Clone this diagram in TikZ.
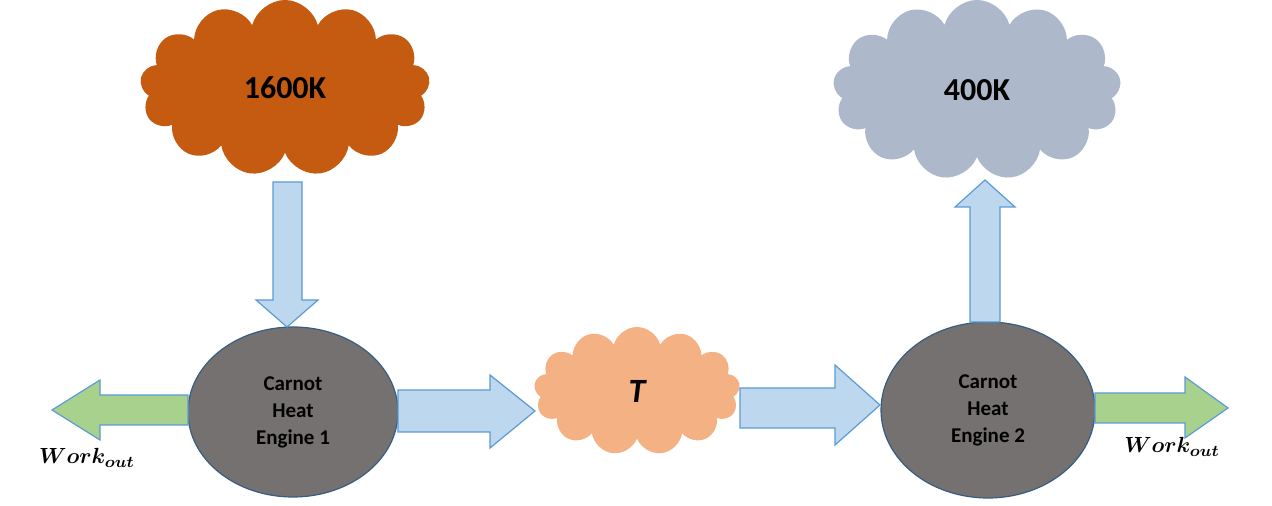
\documentclass[tikz,border=0pt]{standalone}
\usepackage{amsmath}
\usepackage{fontspec}
\setmainfont{Carlito}
\usetikzlibrary{shapes.symbols,shapes.geometric}
\definecolor{hot}{HTML}{C55A11}
\definecolor{cold}{HTML}{ADB9CA}
\definecolor{mid}{HTML}{F4B183}
\definecolor{eng}{HTML}{767171}
\definecolor{blu}{HTML}{BDD7EE}
\definecolor{bord}{HTML}{5B9BD5}
\definecolor{grn}{HTML}{A9D18E}
\begin{document}
\begin{tikzpicture}[x=0.5pt,y=-0.5pt,
  cl/.style={cloud,cloud puffs=13,cloud ignores aspect,draw=none,inner sep=0pt,font=\bfseries\fontsize{16}{18}\selectfont},
  en/.style={ellipse,draw=bord!60!black,line width=0.6pt,fill=eng,inner sep=0pt,align=center,font=\bfseries\fontsize{10.5}{13.5}\selectfont},
  ba/.style={draw=bord,line width=0.6pt,fill=blu},
  ga/.style={draw=bord,line width=0.6pt,fill=grn},
  wk/.style={font=\boldmath\fontsize{11}{13}\selectfont}]
\useasboundingbox (0,0) rectangle (1272,506);
\node[cl,fill=hot,minimum width=145pt,minimum height=88pt] (hot) at (285,88) {1600K};
\node[cl,fill=cold,minimum width=144pt,minimum height=90pt] (cold) at (977,90) {400K};
\node[cl,fill=mid,minimum width=103pt,minimum height=64pt,font=\bfseries\itshape\fontsize{17}{19}\selectfont] (T) at (637,391) {T};
\node[en,minimum width=105pt,minimum height=85pt] (e1) at (293,412) {Carnot\\Heat\\Engine 1};
\node[en,minimum width=107pt,minimum height=88pt] (e2) at (988,410) {Carnot\\Heat\\Engine 2};
\draw[ba] (273,182) -- (302,182) -- (302,300) -- (318,300) -- (287,327) -- (256,300) -- (273,300) -- cycle;
\draw[ba] (970,322) -- (1000,322) -- (1000,207) -- (1015,207) -- (985,180) -- (955,207) -- (970,207) -- cycle;
\draw[ba] (398,390) -- (490,390) -- (490,375) -- (535,411) -- (490,448) -- (490,432) -- (398,432) -- cycle;
\draw[ba] (740,388) -- (835,388) -- (835,365) -- (880,405) -- (835,445) -- (835,428) -- (740,428) -- cycle;
\draw[ga] (188,395) -- (100,395) -- (100,380) -- (52,410) -- (100,440) -- (100,425) -- (188,425) -- cycle;
\draw[ga] (1095,393) -- (1185,393) -- (1185,377) -- (1228,408) -- (1185,438) -- (1185,423) -- (1095,423) -- cycle;
\node[wk] (w1) at (87,458) {$Work_{out}$};
\node[wk] (w2) at (1172,447) {$Work_{out}$};
\end{tikzpicture}
\end{document}
